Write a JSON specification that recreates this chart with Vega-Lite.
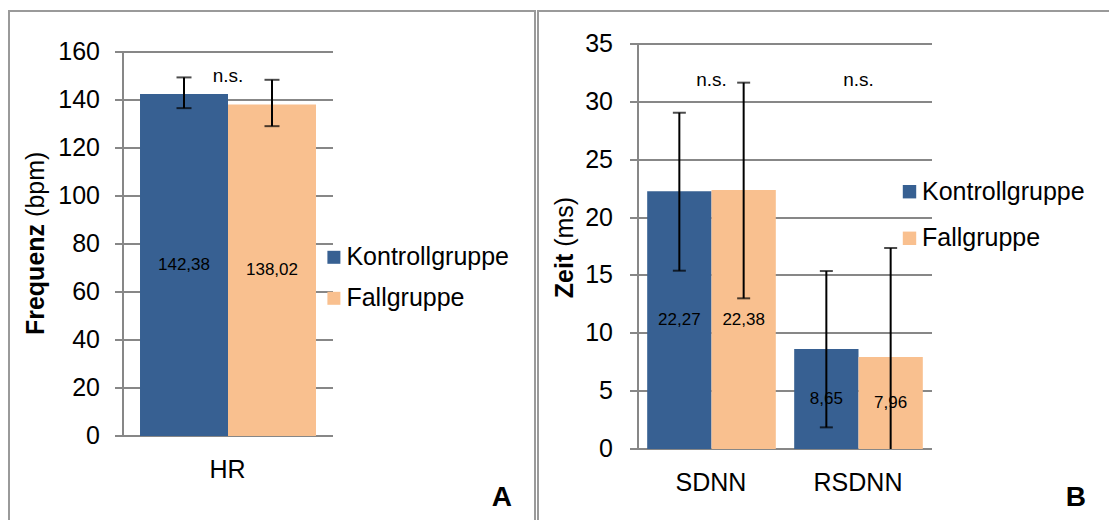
{
  "$schema": "https://vega.github.io/schema/vega-lite/v6.json",
  "padding": {"left": 8, "top": 10, "right": 0, "bottom": 0},
  "autosize": {"type": "pad"},
  "bounds": "flush",
  "spacing": 3,
  "resolve": {"scale": {"color": "independent", "x": "independent", "xOffset": "independent", "y": "independent"}, "legend": {"color": "independent"}},
  "config": {
    "font": "Liberation Sans",
    "locale": {"number": {"decimal": ",", "thousands": ".", "grouping": [3], "currency": ["", " €"]}},
    "text": {"font": "Liberation Sans", "color": "#000000"},
    "title": {"font": "Liberation Sans"},
    "axis": {"labelFont": "Liberation Sans", "titleFont": "Liberation Sans", "translate": 0},
    "legend": {"labelFont": "Liberation Sans"}
  },
  "hconcat": [
    {
      "width": 526,
      "height": 509,
      "view": {"stroke": "#9a9a9a", "strokeWidth": 2, "strokeDash": [1035, 526, 509]},
      "title": {"text": "A", "orient": "bottom", "anchor": "end", "frame": "group", "offset": -14, "dx": -23, "fontSize": 28, "fontWeight": "bold", "color": "#000000", "baseline": "alphabetic", "align": "right"},
      "data": {"values": [
        {"cat": "HR", "group": "Kontrollgruppe", "value": 142.38, "low": 136.5, "high": 149.3},
        {"cat": "HR", "group": "Fallgruppe", "value": 138.02, "low": 129.0, "high": 148.3}
      ]},
      "layer": [
        {
          "layer": [
            {
              "mark": {"type": "bar"},
              "encoding": {
                "x": {"field": "cat", "type": "nominal", "sort": null,
                  "scale": {"range": [114, 324], "paddingInner": 0.162, "paddingOuter": 0.081},
                  "axis": {"orient": "bottom", "offset": -84, "domainColor": "#878787", "domainWidth": 2, "ticks": false, "tickSize": 0, "labelPadding": 22, "labelFontSize": 25, "labelColor": "#000000", "labelAngle": 0, "title": null, "grid": false}},
                "xOffset": {"field": "group", "type": "nominal", "sort": ["Kontrollgruppe", "Fallgruppe"]},
                "y": {"field": "value", "type": "quantitative",
                  "scale": {"domain": [0, 160], "range": [425, 40.7], "nice": false, "zero": true},
                  "axis": {"orient": "left", "offset": -114, "values": [0, 20, 40, 60, 80, 100, 120, 140, 160], "grid": true, "gridColor": "#878787", "gridWidth": 2, "domainColor": "#878787", "domainWidth": 2, "tickColor": "#878787", "tickWidth": 2, "tickSize": 8, "labelPadding": 15, "labelFontSize": 25, "labelColor": "#000000", "labelOverlap": false, "title": "Frequenz", "titleFontSize": 25, "titleFontWeight": "bold", "titleColor": "#000000", "titleAngle": -90, "titleX": -87.5, "titleY": 268.5, "titleAlign": "center", "titleBaseline": "middle"}},
                "color": {"field": "group", "type": "nominal",
                  "scale": {"domain": ["Kontrollgruppe", "Fallgruppe"], "range": ["#376092", "#F9C08F"]},
                  "legend": {"orient": "none", "legendX": 312.4, "legendY": 233.8, "title": null, "symbolType": "square", "symbolSize": 169, "symbolStrokeWidth": 0, "labelFontSize": 25, "labelColor": "#000000", "labelOffset": 0, "labelLimit": 0, "rowPadding": 15, "padding": 0}}
              }
            },
            {
              "data": {"values": [{"cat": "HR", "note": "n.s."}]},
              "mark": {"type": "text", "fontSize": 19, "baseline": "middle", "color": "#000000"},
              "encoding": {
                "x": {"field": "cat", "type": "nominal", "sort": null},
                "y": {"datum": 149.7, "type": "quantitative"},
                "text": {"field": "note"}
              }
            }
          ]
        },
        {
          "mark": {"type": "text", "fontSize": 17, "baseline": "middle", "color": "#000000"},
          "encoding": {
            "x": {"field": "cat", "type": "nominal", "sort": null},
            "xOffset": {"field": "group", "type": "nominal", "sort": ["Kontrollgruppe", "Fallgruppe"]},
            "y": {"field": "value", "type": "quantitative",
              "scale": {"domain": [0, 320], "range": [425, 40.7], "nice": false, "zero": true},
              "axis": {"orient": "left", "offset": -114, "labels": false, "ticks": false, "domain": false, "grid": false, "title": "(bpm)", "titleFontSize": 25, "titleFontWeight": "normal", "titleColor": "#000000", "titleAngle": -90, "titleX": -87.5, "titleY": 173.3, "titleAlign": "center", "titleBaseline": "middle"}},
            "text": {"field": "value", "type": "quantitative", "format": ".2f"}
          }
        },
        {
          "layer": [
            {
              "mark": {"type": "rule", "strokeWidth": 2, "color": "#000000"},
              "encoding": {
                "x": {"field": "cat", "type": "nominal", "sort": null},
                "xOffset": {"field": "group", "type": "nominal", "sort": ["Kontrollgruppe", "Fallgruppe"]},
                "y": {"field": "low", "type": "quantitative", "scale": {"domain": [0, 160], "range": [425, 40.7], "nice": false, "zero": true, "clamp": true}, "axis": null},
                "y2": {"field": "high"}
              }
            },
            {
              "mark": {"type": "tick", "orient": "horizontal", "size": 15, "thickness": 2, "color": "#000000"},
              "encoding": {
                "x": {"field": "cat", "type": "nominal", "sort": null},
                "xOffset": {"field": "group", "type": "nominal", "sort": ["Kontrollgruppe", "Fallgruppe"]},
                "y": {"field": "low", "type": "quantitative", "axis": null}
              }
            },
            {
              "mark": {"type": "tick", "orient": "horizontal", "size": 15, "thickness": 2, "color": "#000000"},
              "encoding": {
                "x": {"field": "cat", "type": "nominal", "sort": null},
                "xOffset": {"field": "group", "type": "nominal", "sort": ["Kontrollgruppe", "Fallgruppe"]},
                "y": {"field": "high", "type": "quantitative", "axis": null}
              }
            }
          ]
        }
      ],
      "resolve": {"scale": {"y": "independent"}}
    },
    {
      "width": 571,
      "height": 509,
      "view": {"stroke": "#9a9a9a", "strokeWidth": 2, "strokeDash": [571, 1080, 509]},
      "title": {"text": "B", "orient": "bottom", "anchor": "end", "frame": "group", "offset": -14, "dx": -23, "fontSize": 28, "fontWeight": "bold", "color": "#000000", "baseline": "alphabetic", "align": "right"},
      "data": {"values": [
        {"cat": "SDNN", "group": "Kontrollgruppe", "value": 22.27, "low": 15.41, "high": 29.06},
        {"cat": "SDNN", "group": "Fallgruppe", "value": 22.38, "low": 13.02, "high": 31.66},
        {"cat": "RSDNN", "group": "Kontrollgruppe", "value": 8.65, "low": 1.87, "high": 15.38},
        {"cat": "RSDNN", "group": "Fallgruppe", "value": 7.96, "low": -1.45, "high": 17.37}
      ]},
      "layer": [
        {
          "layer": [
            {
              "mark": {"type": "bar"},
              "encoding": {
                "x": {"field": "cat", "type": "nominal", "sort": ["SDNN", "RSDNN"],
                  "scale": {"range": [100, 394], "paddingInner": 0.125, "paddingOuter": 0.0625},
                  "axis": {"orient": "bottom", "offset": -71, "domainColor": "#878787", "domainWidth": 2, "ticks": false, "tickSize": 0, "labelPadding": 22, "labelFontSize": 25, "labelColor": "#000000", "labelAngle": 0, "title": null, "grid": false}},
                "xOffset": {"field": "group", "type": "nominal", "sort": ["Kontrollgruppe", "Fallgruppe"]},
                "y": {"field": "value", "type": "quantitative",
                  "scale": {"domain": [0, 35], "range": [438, 33], "nice": false, "zero": true},
                  "axis": {"orient": "left", "offset": -100, "values": [0, 5, 10, 15, 20, 25, 30, 35], "grid": true, "gridColor": "#878787", "gridWidth": 2, "domainColor": "#878787", "domainWidth": 2, "tickColor": "#878787", "tickWidth": 2, "tickSize": 8, "labelPadding": 17, "labelFontSize": 25, "labelColor": "#000000", "labelOverlap": false, "title": "Zeit", "titleFontSize": 25, "titleFontWeight": "bold", "titleColor": "#000000", "titleAngle": -90, "titleX": -73, "titleY": 265, "titleAlign": "center", "titleBaseline": "middle"}},
                "color": {"field": "group", "type": "nominal",
                  "scale": {"domain": ["Kontrollgruppe", "Fallgruppe"], "range": ["#376092", "#F9C08F"]},
                  "legend": {"orient": "none", "legendX": 359, "legendY": 168.2, "title": null, "symbolType": "square", "symbolSize": 180, "symbolStrokeWidth": 0, "labelFontSize": 25, "labelColor": "#000000", "labelOffset": 0, "labelLimit": 0, "rowPadding": 20.6, "padding": 0}}
              }
            },
            {
              "data": {"values": [{"cat": "SDNN", "note": "n.s."}, {"cat": "RSDNN", "note": "n.s."}]},
              "mark": {"type": "text", "fontSize": 19, "baseline": "middle", "color": "#000000"},
              "encoding": {
                "x": {"field": "cat", "type": "nominal", "sort": ["SDNN", "RSDNN"]},
                "y": {"datum": 31.9, "type": "quantitative"},
                "text": {"field": "note"}
              }
            }
          ]
        },
        {
          "mark": {"type": "text", "fontSize": 17, "baseline": "middle", "color": "#000000"},
          "encoding": {
            "x": {"field": "cat", "type": "nominal", "sort": ["SDNN", "RSDNN"]},
            "xOffset": {"field": "group", "type": "nominal", "sort": ["Kontrollgruppe", "Fallgruppe"]},
            "y": {"field": "value", "type": "quantitative",
              "scale": {"domain": [0, 70], "range": [438, 33], "nice": false, "zero": true},
              "axis": {"orient": "left", "offset": -100, "labels": false, "ticks": false, "domain": false, "grid": false, "title": "(ms)", "titleFontSize": 25, "titleFontWeight": "normal", "titleColor": "#000000", "titleAngle": -90, "titleX": -73, "titleY": 210.8, "titleAlign": "center", "titleBaseline": "middle"}},
            "text": {"field": "value", "type": "quantitative", "format": ".2f"}
          }
        },
        {
          "layer": [
            {
              "mark": {"type": "rule", "strokeWidth": 2, "color": "#000000"},
              "encoding": {
                "x": {"field": "cat", "type": "nominal", "sort": ["SDNN", "RSDNN"]},
                "xOffset": {"field": "group", "type": "nominal", "sort": ["Kontrollgruppe", "Fallgruppe"]},
                "y": {"field": "low", "type": "quantitative", "scale": {"domain": [0, 35], "range": [438, 33], "nice": false, "zero": true, "clamp": true}, "axis": null},
                "y2": {"field": "high"}
              }
            },
            {
              "transform": [{"filter": "datum.low >= 0"}],
              "mark": {"type": "tick", "orient": "horizontal", "size": 13, "thickness": 2, "color": "#000000"},
              "encoding": {
                "x": {"field": "cat", "type": "nominal", "sort": ["SDNN", "RSDNN"]},
                "xOffset": {"field": "group", "type": "nominal", "sort": ["Kontrollgruppe", "Fallgruppe"]},
                "y": {"field": "low", "type": "quantitative", "axis": null}
              }
            },
            {
              "mark": {"type": "tick", "orient": "horizontal", "size": 13, "thickness": 2, "color": "#000000"},
              "encoding": {
                "x": {"field": "cat", "type": "nominal", "sort": ["SDNN", "RSDNN"]},
                "xOffset": {"field": "group", "type": "nominal", "sort": ["Kontrollgruppe", "Fallgruppe"]},
                "y": {"field": "high", "type": "quantitative", "axis": null}
              }
            }
          ]
        }
      ],
      "resolve": {"scale": {"y": "independent"}}
    }
  ]
}
